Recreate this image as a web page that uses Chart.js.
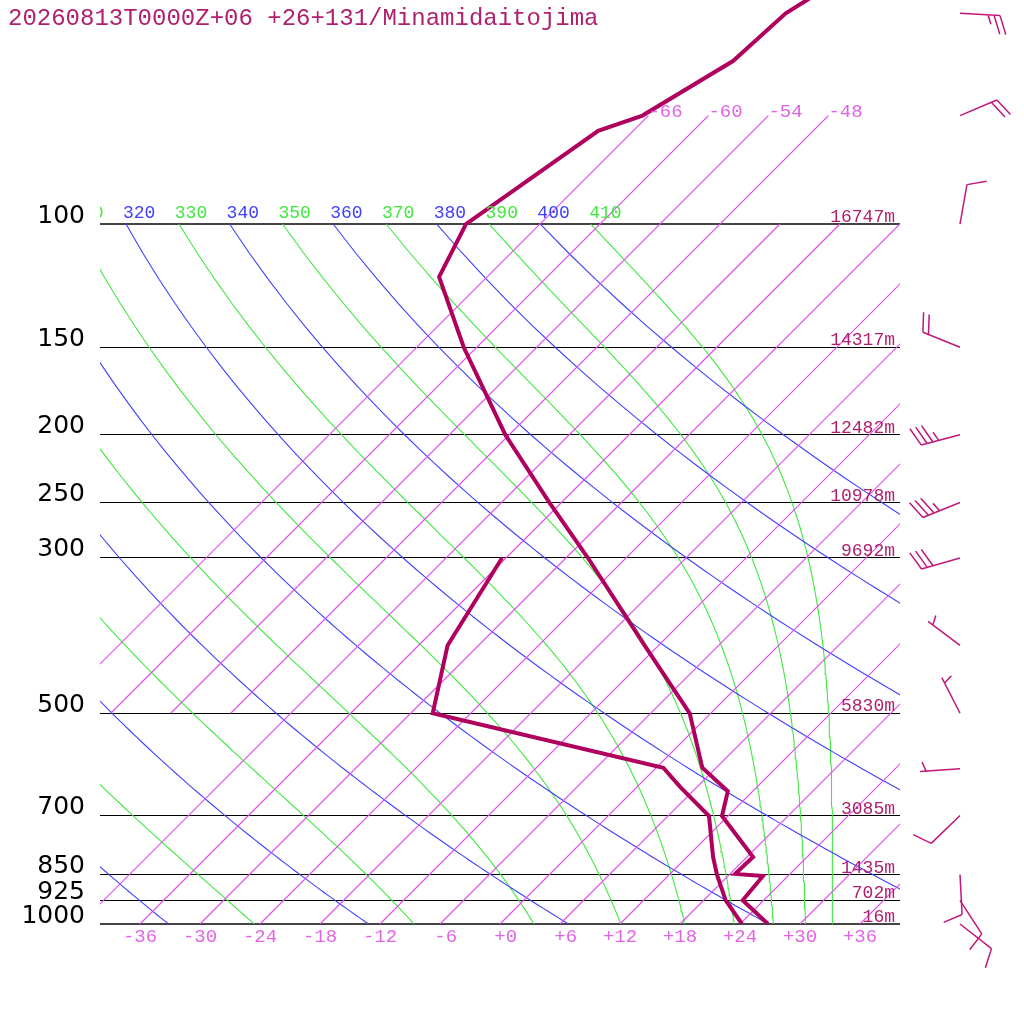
<!DOCTYPE html>
<html>
<head>
<meta charset="utf-8">
<script src="https://cdn.jsdelivr.net/npm/chart.js@4.4.1/dist/chart.umd.min.js"></script>
<style>
  html, body { margin: 0; padding: 0; background: #fff; }
</style>
</head>
<body>
<canvas id="myChart" width="1024" height="1024"></canvas>
<script>
const title = '20260813T0000Z+06 +26+131/Minamidaitojima';

// pressure lines, their labels and heights
const pLevels = [100, 150, 200, 250, 300, 500, 700, 850, 925, 1000];
const heights = [16747, 14317, 12482, 10978, 9692, 5830, 3085, 1435, 702, 16];
const tempTicks = [-36, -30, -24, -18, -12, -6, 0, 6, 12, 18, 24, 30, 36];

// background lines of the diagram
const isotherms = [-42, -36, -30, -24, -18, -12, -6, 0, 6, 12, 18, 24, 30, 36];
const upperIsotherms = [-66, -60, -54, -48];
const thetas = [240, 260, 280, 300, 320, 340, 360, 380, 400];
const thetaEs = [250, 270, 290, 310, 330, 350, 370, 390, 410];

// sounding
const tempP = [1000, 925, 854, 848, 802, 701, 646, 598, 500, 400, 300, 250, 200, 150, 119, 100, 73.6, 70, 58.5, 50, 40];
const tempT = [26.8, 21.9, 21.5, 18.5, 18.6, 11.4, 9.5, 4.6, -2.1, -13.4, -27.8, -37.2, -48.4, -61.3, -70.8, -73.4, -69.5, -66.6, -63.0, -62.5, -58.4];
const dewP = [1000, 925, 851, 802, 701, 637, 598, 500, 400, 300];
const dewT = [24.2, 20.2, 16.8, 14.6, 10.1, 4.3, 0.7, -27.8, -33.1, -36.4];

// winds (direction in degrees, speed in knots)
const windP = [50, 70, 100, 150, 200, 250, 300, 400, 500, 600, 700, 850, 925, 1000];
const windDir = [93, 67, 10, 292, 255, 248, 254, 307, 333, 266, 226, 177, 147, 128];
const windSpd = [25, 20, 10, 20, 35, 35, 30, 5, 5, 5, 10, 10, 10, 10];

const SKEW = 70;       // degC per decade of pressure -> 45 degree isotherms
const pTop = 47.86;
const KAPPA = 0.2857;

const BLUE = 'rgb(64,64,255)', GREEN = 'rgb(64,232,64)', ISO = 'rgb(228,78,240)', PROF = 'rgb(176,0,94)', TXT = 'rgb(176,32,110)';

function skewX(t, p) { return t + SKEW * Math.log10(1000 / p); }

// Bolton equivalent potential temperature of saturated air
function es(tc) { return 6.112 * Math.exp(17.67 * tc / (tc + 243.5)); }
function thetaE(tk, p) {
  const e = es(tk - 273.15);
  const r = 622 * e / (p - e);
  return tk * Math.pow(1000 / p, 0.2854 * (1 - 0.28e-3 * r)) * Math.exp((3.376 / tk - 0.00254) * r * (1 + 0.81e-3 * r));
}
function moistCurve(the) {
  const pts = [];
  for (let p = 1000; p >= 100; p -= 10) {
    let lo = 150, hi = 330;
    for (let k = 0; k < 50; k++) {
      const mid = (lo + hi) / 2;
      if (thetaE(mid, p) > the) hi = mid; else lo = mid;
    }
    pts.push({x: skewX((lo + hi) / 2 - 273.15, p), y: p});
  }
  return pts;
}
function dryCurve(th) {
  const pts = [];
  for (let p = 1000; p >= 100; p -= 10) pts.push({x: skewX(th * Math.pow(p / 1000, KAPPA) - 273.15, p), y: p});
  return pts;
}
function isoLine(t, pBot, pUp) {
  return [{x: skewX(t, pBot), y: pBot}, {x: skewX(t, pUp), y: pUp}];
}

function line(pts, color, width, order) {
  return { data: pts, borderColor: color, backgroundColor: color, borderWidth: width, pointRadius: 0, showLine: true, fill: false, order: order };
}

const datasets = [];
datasets.push(line(tempP.map((p, i) => ({x: skewX(tempT[i], p), y: p})), PROF, 4, 0));
datasets.push(line(dewP.map((p, i) => ({x: skewX(dewT[i], p), y: p})), PROF, 4, 0));
thetas.forEach(th => datasets.push(line(dryCurve(th), BLUE, 1.1, 2)));
const moistLines = thetaEs.map(the => ({the, pts: moistCurve(the)}));
moistLines.forEach(m => datasets.push(line(m.pts, GREEN, 1.1, 2)));
isotherms.forEach(t => datasets.push(line(isoLine(t, 1000, 100), ISO, 1.2, 1)));
upperIsotherms.forEach(t => datasets.push(line(isoLine(t, 500, 70), ISO, 1.2, 1)));

function drawBarb(ctx, x0, y0, dir, spd) {
  const a = dir * Math.PI / 180;
  const ux = Math.sin(a), uy = -Math.cos(a);
  const L = 40, full = 20, half = 10, gap = 6;
  const b = 70 * Math.PI / 180;
  const bx = ux * Math.cos(b) - uy * Math.sin(b), by = ux * Math.sin(b) + uy * Math.cos(b);
  const ex = x0 + ux * L, ey = y0 + uy * L;
  ctx.beginPath();
  ctx.moveTo(x0, y0);
  ctx.lineTo(ex, ey);
  const n = Math.round(spd / 5);
  const fulls = Math.floor(n / 2), halfs = n % 2;
  let d = (fulls === 0 && halfs) ? gap : 0;
  for (let i = 0; i < fulls; i++) {
    const px = ex - ux * d, py = ey - uy * d;
    ctx.moveTo(px, py);
    ctx.lineTo(px + bx * full, py + by * full);
    d += gap;
  }
  if (halfs) {
    const px = ex - ux * d, py = ey - uy * d;
    ctx.moveTo(px, py);
    ctx.lineTo(px + bx * half, py + by * half);
  }
  ctx.stroke();
}

const overlay = {
  id: 'overlay',
  afterDatasetsDraw(chart) {
    const {ctx, chartArea: a, scales: {x, y}} = chart;
    ctx.save();
    ctx.beginPath();
    ctx.rect(a.left, 0, a.right - a.left, a.bottom);
    ctx.clip();
    ctx.textBaseline = 'alphabetic';
    ctx.textAlign = 'left';
    ctx.font = '18px "Liberation Mono"';
    const y100 = y.getPixelForValue(100);
    // adiabat labels sit where the dry adiabat of the same value crosses 100 hPa
    thetas.concat(thetaEs).forEach((th, i) => {
      const t = th * Math.pow(0.1, KAPPA) - 273.15;
      ctx.fillStyle = i < thetas.length ? BLUE : GREEN;
      ctx.fillText(String(th), x.getPixelForValue(skewX(t, 100)) - 3, y100 - 6);
    });
    ctx.font = '19px "Liberation Mono"';
    ctx.fillStyle = 'rgb(226,100,230)';
    upperIsotherms.forEach(t => {
      ctx.fillText(String(t), x.getPixelForValue(skewX(t, 70)), y.getPixelForValue(70) + 1);
    });
    ctx.font = '18px "Liberation Mono"';
    ctx.textAlign = 'right';
    ctx.fillStyle = TXT;
    pLevels.forEach((p, i) => ctx.fillText(heights[i] + 'm', a.right - 5, y.getPixelForValue(p) - 2));
    ctx.restore();

    ctx.save();
    ctx.strokeStyle = 'rgb(192,24,122)';
    ctx.lineWidth = 1.5;
    windP.forEach((p, i) => drawBarb(ctx, 960, y.getPixelForValue(p), windDir[i], windSpd[i]));
    ctx.fillStyle = TXT;
    ctx.font = '24px "Liberation Mono"';
    ctx.textAlign = 'left';
    ctx.textBaseline = 'alphabetic';
    ctx.fillText(title, 8, 25);
    ctx.restore();
  }
};

const config = {
  type: 'scatter',
  data: { datasets },
  options: {
    responsive: false,
    devicePixelRatio: 1,
    animation: false,
    events: [],
    layout: { padding: { left: 0, right: 124, top: 0, bottom: 0 } },
    plugins: { legend: { display: false }, tooltip: { enabled: false }, colors: { enabled: false } },
    scales: {
      x: {
        type: 'linear',
        min: -40,
        max: 40,
        afterBuildTicks: s => { s.ticks = tempTicks.map(v => ({value: v})); },
        afterFit: s => { s.height = 100; s.paddingLeft = 0; s.paddingRight = 0; },
        grid: { display: false, drawTicks: false },
        border: { display: false },
        ticks: {
          color: 'rgb(226,100,230)',
          font: { family: 'Liberation Mono', size: 19 },
          padding: 2,
          maxRotation: 0,
          autoSkip: false,
          callback: v => (v > 0 ? '+' + v : (v === 0 ? '+0' : String(v))).padStart(3, ' ')
        }
      },
      y: {
        type: 'logarithmic',
        reverse: true,
        min: pTop,
        max: 1000,
        bounds: 'data',
        afterBuildTicks: s => { s.ticks = pLevels.map(v => ({value: v})); },
        afterFit: s => { s.width = 100; s.paddingTop = 0; s.paddingBottom = 0; },
        grid: {
          color: c => (c.tick && (c.tick.value === 100 || c.tick.value === 1000)) ? '#444' : '#000',
          lineWidth: c => (c.tick && (c.tick.value === 100 || c.tick.value === 1000)) ? 2 : 1,
          drawTicks: false
        },
        border: { display: false },
        ticks: {
          color: '#000',
          font: { family: 'DejaVu Sans', size: 25 },
          padding: 15,
          labelOffset: -8,
          autoSkip: false,
          callback: v => String(v)
        }
      }
    }
  },
  plugins: [overlay]
};

const ctx = document.getElementById('myChart');
const myChart = new Chart(ctx, config);
</script>
</body>
</html>
